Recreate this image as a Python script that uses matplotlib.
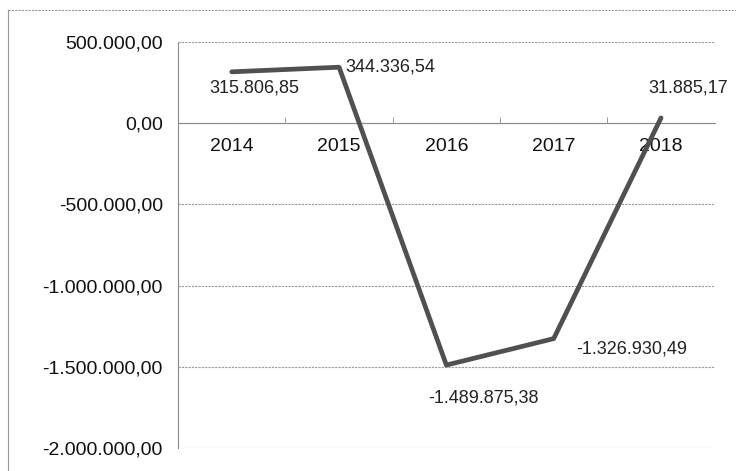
import matplotlib
matplotlib.use("Agg")
import matplotlib.pyplot as plt
from matplotlib.lines import Line2D
from matplotlib.ticker import FixedLocator, FuncFormatter

years = ["2014", "2015", "2016", "2017", "2018"]
values = [315806.85, 344336.54, -1489875.38, -1326930.49, 31885.17]
labels = ["315.806,85", "344.336,54", "-1.489.875,38", "-1.326.930,49", "31.885,17"]
yticks = [500000, 0, -500000, -1000000, -1500000, -2000000]

plt.rcParams['font.family'] = ['Liberation Sans', 'DejaVu Sans']

fig = plt.figure(figsize=(7.36, 4.71), dpi=100)
ax = fig.add_axes([0.242, 0.049, 0.729, 0.862])

x = list(range(len(years)))
ax.plot(x, values, color='#505050', linewidth=3.4, solid_capstyle='round',
        solid_joinstyle='round', zorder=3)

ax.set_xlim(-0.5, len(years) - 0.5)
ax.set_ylim(-2000000, 500000)

def eu(v, pos=None):
    s = f"{abs(v):,.2f}".replace(",", "X").replace(".", ",").replace("X", ".")
    return ("-" if v < 0 else "") + s

ax.yaxis.set_major_locator(FixedLocator(yticks))
ax.yaxis.set_major_formatter(FuncFormatter(eu))
ax.tick_params(axis='y', length=0, pad=11, labelsize=14, colors='#111111')
ax.grid(axis='y', color='#9a9a9a', linewidth=0.8, linestyle=(0, (2, 1)))
ax.set_axisbelow(True)

ax.spines['top'].set_visible(False)
ax.spines['right'].set_visible(False)
ax.spines['left'].set_color('#8a8a8a')
ax.spines['left'].set_linewidth(0.8)
ax.spines['left'].set_linestyle((0, (2, 1)))
ax.spines['bottom'].set_position(('data', 0))
ax.spines['bottom'].set_color('#8a8a8a')
ax.spines['bottom'].set_linewidth(0.8)
ax.spines['bottom'].set_linestyle((0, (2, 1)))

ax.set_xticks(x)
ax.set_xticklabels(years)
ax.set_xticks([i + 0.5 for i in range(len(years) - 1)], minor=True)
ax.tick_params(axis='x', which='major', length=0, pad=11, labelsize=14, colors='#111111')
ax.tick_params(axis='x', which='minor', length=4, color='#8a8a8a', direction='in')

offsets = [(16.6, -11.5, 'center'), (4.3, 0, 'left'), (26.6, -24, 'center'),
           (16.6, -7.2, 'left'), (19.4, 21.6, 'center')]
for i, (v, lab) in enumerate(zip(values, labels)):
    dx, dy, ha = offsets[i]
    ax.annotate(lab, (i, v), xytext=(dx, dy), textcoords='offset points',
                ha=ha, va='center', fontsize=13, color='#222222')

fig.add_artist(Line2D([8/736, 1.0], [1 - 10/471, 1 - 10/471], transform=fig.transFigure,
                      color='#9a9a9a', linewidth=0.8, linestyle=(0, (2, 1))))
fig.add_artist(Line2D([8/736, 8/736], [0.0, 1 - 10/471], transform=fig.transFigure,
                      color='#9a9a9a', linewidth=0.8))

fig.savefig("out.png", dpi=100)
